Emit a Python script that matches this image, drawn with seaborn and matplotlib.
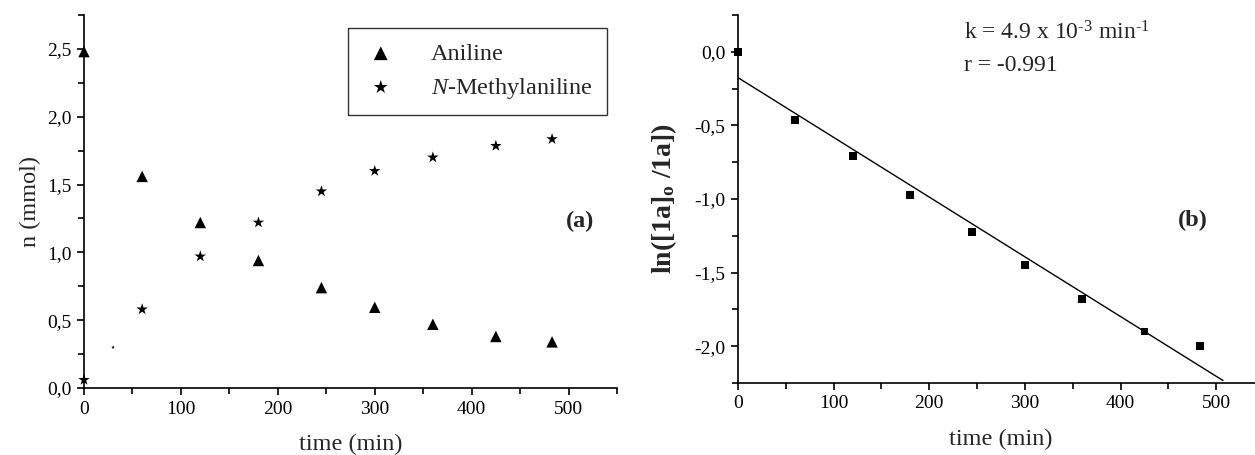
import numpy as np
import pandas as pd
import matplotlib
matplotlib.use("Agg")
import matplotlib.pyplot as plt
import seaborn as sns
from matplotlib.ticker import MultipleLocator, FuncFormatter

# ---- data ----
aniline_t = [0, 60, 120, 180, 245, 300, 360, 425, 483]
aniline_n = [2.48, 1.56, 1.22, 0.94, 0.74, 0.595, 0.47, 0.38, 0.34]
methyl_t = [0, 60, 120, 180, 245, 300, 360, 425, 483]
methyl_n = [0.06, 0.58, 0.97, 1.22, 1.45, 1.60, 1.70, 1.785, 1.835]
methyl_small_t = [30]
methyl_small_n = [0.30]

kin_t = [0, 60, 120, 180, 245, 300, 360, 425, 483]
kin_ln = [0.0, -0.465, -0.71, -0.973, -1.222, -1.447, -1.68, -1.90, -2.00]

series_labels = ["Aniline", r"$\mathit{N}$-Methylaniline"]
k_text = r"k = 4.9 x 10$^{\mathregular{\text{-}3}}$ min$^{\mathregular{\text{-}1}}$"
r_text = "r = -0.991"

sns.set_theme(style="ticks")
plt.rcParams["font.family"] = ["Liberation Serif", "DejaVu Serif"]
plt.rcParams["mathtext.fontset"] = "custom"
plt.rcParams["mathtext.rm"] = "Liberation Serif"
plt.rcParams["mathtext.it"] = "Liberation Serif:italic"
plt.rcParams["mathtext.bf"] = "Liberation Serif:bold"
plt.rcParams["axes.linewidth"] = 1.2

fig = plt.figure(figsize=(12.55, 4.55), dpi=100)
W, H = 1255, 455
ax1 = fig.add_axes([84 / W, 1 - 388 / H, (617 - 84) / W, (388 - 15) / H])
ax2 = fig.add_axes([738 / W, 1 - 383 / H, (1264 - 738) / W, (383 - 15) / H])

comma = FuncFormatter(lambda v, p: ("%.1f" % v).replace(".", ",").replace("−", "-"))

# ---- left panel ----
dfa = pd.DataFrame({"t": aniline_t, "n": aniline_n})
dfm = pd.DataFrame({"t": methyl_t, "n": methyl_n})
sns.scatterplot(data=dfa, x="t", y="n", ax=ax1, marker="^", s=68, color="black",
                edgecolor="none", label=series_labels[0], clip_on=False, zorder=3)
sns.scatterplot(data=dfm, x="t", y="n", ax=ax1, marker="*", s=75, color="black",
                edgecolor="none", label=series_labels[1], clip_on=False, zorder=3)
sns.scatterplot(x=methyl_small_t, y=methyl_small_n, ax=ax1, marker="*", s=8,
                color="black", edgecolor="none", legend=False)
ax1.set_xlim(0, 550)
ax1.set_ylim(0, 2.75)
ax1.xaxis.set_major_locator(MultipleLocator(100))
ax1.xaxis.set_minor_locator(MultipleLocator(50))
ax1.yaxis.set_major_locator(MultipleLocator(0.5))
ax1.yaxis.set_minor_locator(MultipleLocator(0.25))
ax1.yaxis.set_major_formatter(comma)
ax1.set_xlabel("time (min)", fontsize=17.5, labelpad=12)
ax1.set_ylabel("n (mmol)", fontsize=17.5, labelpad=4)
ax1.text(0.93, 0.446, "(a)", transform=ax1.transAxes, fontsize=17.5,
         fontweight="bold", ha="center", va="center")
leg = ax1.legend(loc="upper right", bbox_to_anchor=(0.981, 0.965), fontsize=17.5,
                 frameon=True, fancybox=False, edgecolor="black", handletextpad=1.3,
                 borderpad=0.6, labelspacing=0.45, markerscale=1.2, handlelength=1.5,
                 borderaxespad=0)
leg.get_frame().set_linewidth(1.0)

# ---- right panel ----
dfk = pd.DataFrame({"t": kin_t, "ln": kin_ln})
sns.regplot(data=dfk, x="t", y="ln", ax=ax2, ci=None, truncate=False,
            marker="s", color="black",
            scatter_kws={"s": 32, "edgecolor": "none", "alpha": 1.0,
                         "clip_on": False, "zorder": 3},
            line_kws={"linewidth": 1.0, "color": "black"})
ax2.set_xlim(0, 550)
ax2.set_ylim(-2.25, 0.25)
ax2.xaxis.set_major_locator(MultipleLocator(100))
ax2.xaxis.set_minor_locator(MultipleLocator(50))
ax2.yaxis.set_major_locator(MultipleLocator(0.5))
ax2.yaxis.set_minor_locator(MultipleLocator(0.25))
ax2.yaxis.set_major_formatter(comma)
ax2.set_xlabel("time (min)", fontsize=17.5, labelpad=12)
ax2.set_ylabel(r"ln([1a]$_{\mathbf{o}}$ /1a])", fontsize=20, fontweight="bold", labelpad=11)
ax2.text(0.43, 0.951, k_text, transform=ax2.transAxes, fontsize=17,
         ha="left", va="center")
ax2.text(0.43, 0.864, r_text, transform=ax2.transAxes, fontsize=17,
         ha="left", va="center")
ax2.text(0.865, 0.443, "(b)", transform=ax2.transAxes, fontsize=17.5,
         fontweight="bold", ha="center", va="center")

for ax in (ax1, ax2):
    sns.despine(ax=ax)
    ax.tick_params(axis="both", which="major", direction="out", length=5, width=1.2,
                   labelsize=14, color="black", labelcolor="black", pad=4)
    ax.tick_params(axis="both", which="minor", direction="out", length=4, width=1.2,
                   color="black")
    for sp in ax.spines.values():
        sp.set_color("black")
    ax.set_facecolor("white")

fig.patch.set_facecolor("white")
fig.savefig("out.png", dpi=100, facecolor="white")
